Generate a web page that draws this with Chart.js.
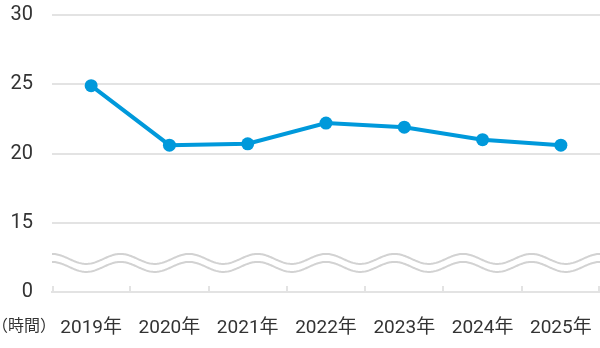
<!DOCTYPE html>
<html>
<head>
<meta charset="utf-8">
<script src="https://cdn.jsdelivr.net/npm/chart.js@4"></script>
<style>
  html, body { margin: 0; padding: 0; background: #fff; }
  #wrap { position: relative; width: 600px; height: 348px; }
  #unit {
    position: absolute; left: -8px; top: 312px;
    font: 16px "Noto Sans CJK JP", sans-serif; color: #333;
  }
</style>
</head>
<body>
<div id="wrap">
  <canvas id="chart" width="600" height="348"></canvas>
  <span id="unit">（時間）</span>
</div>
<script>
const years = ["2019年", "2020年", "2021年", "2022年", "2023年", "2024年", "2025年"];
const hours = [24.9, 20.6, 20.7, 22.2, 21.9, 21.0, 20.6];
// axis is broken: the bottom line stands for 0, the rest is 15..30
const yMin = 10;
const yMax = 30;
const yStep = 5;
const breakAt = 12.1;

const lineColor = "#0099db";
const gridColor = "#e3e3e3";

// small tick marks pointing up from the x baseline + wavy break lines
const axisBreak = {
  id: "axisBreak",
  beforeDatasetsDraw(chart) {
    const { ctx, chartArea } = chart;
    const y = chart.scales.y;
    const n = years.length;
    const step = (chartArea.right - chartArea.left) / n;

    ctx.save();
    ctx.strokeStyle = gridColor;
    ctx.lineWidth = 2;
    for (let i = 0; i <= n; i++) {
      let px = Math.round(chartArea.left + i * step);
      if (i === 0) px += 1;
      if (i === n) px -= 1;
      ctx.beginPath();
      ctx.moveTo(px, chartArea.bottom - 6);
      ctx.lineTo(px, chartArea.bottom);
      ctx.stroke();
    }

    // two wavy lines across the plot
    const cy = y.getPixelForValue(breakAt);
    const w = chartArea.right - chartArea.left;
    const period = w / 8;
    ctx.strokeStyle = "#d2d2d2";
    ctx.lineWidth = 2;
    [-4, 4].forEach((off) => {
      ctx.beginPath();
      for (let px = chartArea.left; px <= chartArea.right; px++) {
        const py = cy + off - 5 * Math.cos((2 * Math.PI * (px - chartArea.left)) / period);
        if (px === chartArea.left) ctx.moveTo(px, py);
        else ctx.lineTo(px, py);
      }
      ctx.stroke();
    });
    ctx.restore();
  },
};

new Chart(document.getElementById("chart"), {
  type: "line",
  data: {
    labels: years,
    datasets: [
      {
        data: hours,
        borderColor: lineColor,
        backgroundColor: lineColor,
        borderWidth: 4,
        pointRadius: 6.5,
        pointHoverRadius: 6.5,
        pointBorderWidth: 0,
        tension: 0,
        clip: false,
      },
    ],
  },
  options: {
    responsive: false,
    animation: false,
    layout: {
      autoPadding: false,
      padding: { top: 15, right: 0, bottom: 0, left: 0 },
    },
    plugins: {
      legend: { display: false },
      tooltip: { enabled: false },
    },
    scales: {
      x: {
        offset: true,
        grid: { display: false, offset: true },
        border: { display: true, color: gridColor, width: 2 },
        ticks: {
          padding: 17,
          color: "#333",
          font: { family: "Roboto, 'Noto Sans CJK JP'", size: 19 },
        },
        afterFit(scale) {
          scale.height = 56;
          scale.paddingLeft = 0;
          scale.paddingRight = 0;
        },
      },
      y: {
        min: yMin,
        max: yMax,
        grid: {
          color: gridColor,
          lineWidth: 2,
          drawTicks: false,
        },
        border: { display: false },
        ticks: {
          stepSize: yStep,
          padding: 19,
          color: "#333",
          font: { family: "Roboto", size: 20 },
          callback: (v) => (v === yMin ? "0" : v),
        },
        afterFit(scale) {
          scale.width = 52;
          scale.paddingTop = 0;
          scale.paddingBottom = 0;
        },
      },
    },
  },
  plugins: [axisBreak],
});
</script>
</body>
</html>
